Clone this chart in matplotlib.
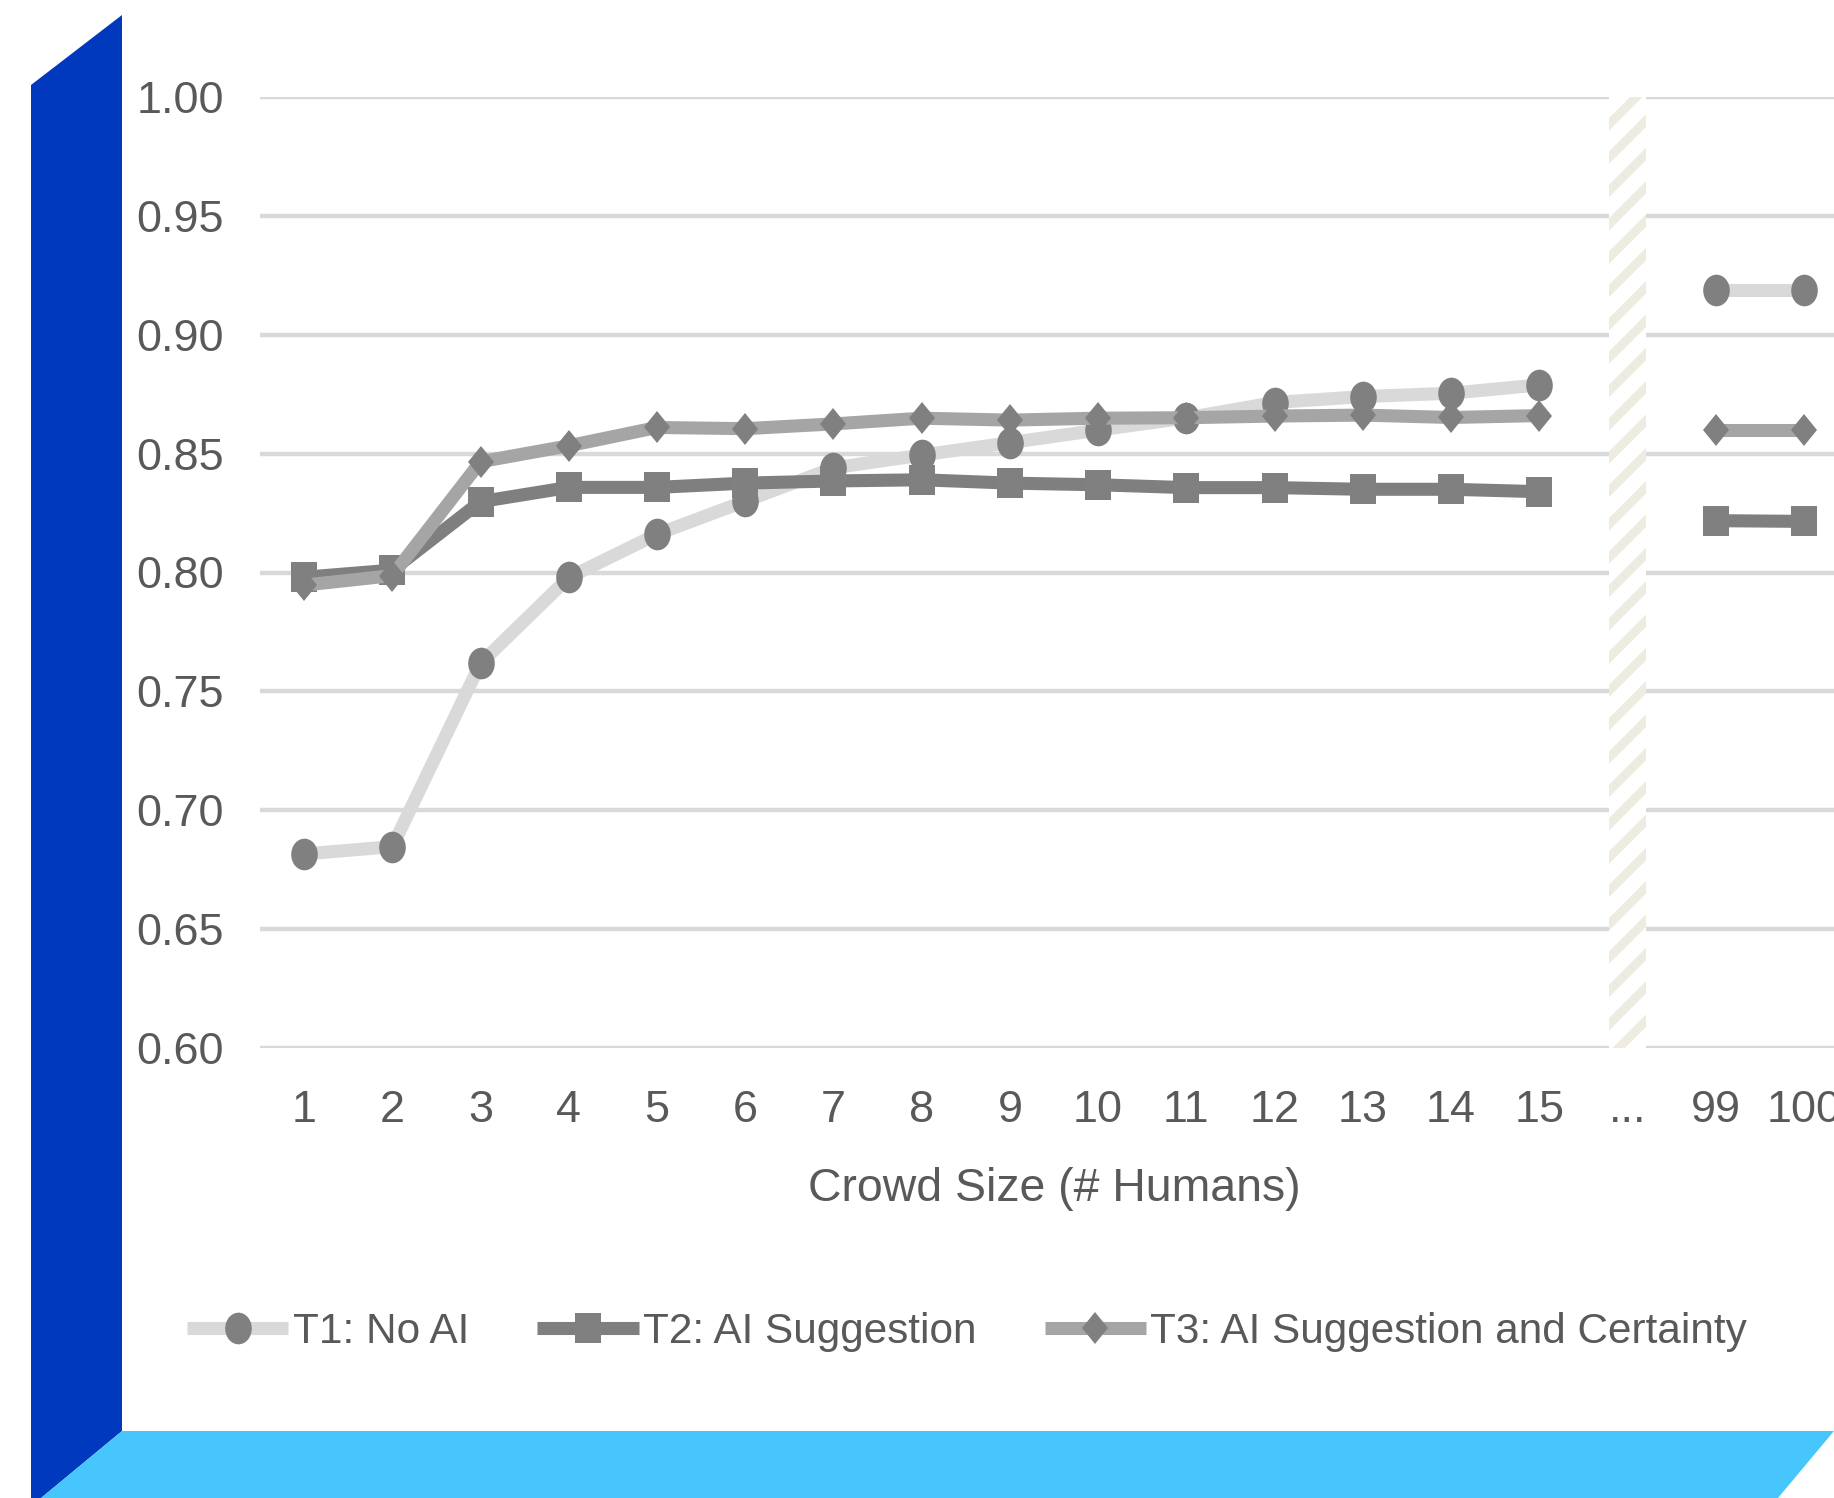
import matplotlib
matplotlib.use("Agg")
import matplotlib.pyplot as plt
from matplotlib.markers import MarkerStyle
from matplotlib.patches import Polygon, Rectangle
from matplotlib.transforms import Affine2D

plt.rcParams['font.family'] = ['Liberation Sans', 'DejaVu Sans']
plt.rcParams['hatch.linewidth'] = 3.2

# ---- data -------------------------------------------------------------
tick_labels = ["1", "2", "3", "4", "5", "6", "7", "8", "9", "10",
               "11", "12", "13", "14", "15", "...", "99", "100"]
small_crowds = list(range(15))          # positions of crowd sizes 1..15
large_crowds = [16, 17]                 # positions of crowd sizes 99, 100
gap_position = 15                       # the "..." break

t1_small = [0.6816, 0.6847, 0.7618, 0.7979, 0.8161, 0.8300, 0.8440, 0.8494,
            0.8546, 0.8599, 0.8650, 0.8715, 0.8740, 0.8754, 0.8789]
t1_large = [0.9187, 0.9187]
t2_small = [0.7980, 0.8010, 0.8298, 0.8358, 0.8358, 0.8376, 0.8385, 0.8390,
            0.8376, 0.8369, 0.8357, 0.8357, 0.8350, 0.8350, 0.8340]
t2_large = [0.8218, 0.8215]
t3_small = [0.7947, 0.7987, 0.8466, 0.8533, 0.8610, 0.8605, 0.8625, 0.8649,
            0.8641, 0.8649, 0.8651, 0.8658, 0.8662, 0.8652, 0.8660]
t3_large = [0.8598, 0.8598]

series_names = ["T1: No AI", "T2: AI Suggestion", "T3: AI Suggestion and Certainty"]
y_ticks = [0.60, 0.65, 0.70, 0.75, 0.80, 0.85, 0.90, 0.95, 1.00]

# ---- figure -----------------------------------------------------------
W, H = 1834, 1498
DPI = 200
fig = plt.figure(figsize=(W / DPI, H / DPI), dpi=DPI)
fig.patch.set_facecolor("white")

def fx(px):
    return px / W

def fy(py):
    return 1 - py / H

# decorative frame: dark blue side panel and light blue base
dark_blue = Polygon([(fx(31), fy(85)), (fx(122), fy(15)), (fx(122), fy(1431)),
                     (fx(41), fy(1498)), (fx(31), fy(1498))],
                    closed=True, transform=fig.transFigure,
                    facecolor="#0039BE", edgecolor="none", zorder=0)
light_blue = Polygon([(fx(122), fy(1431)), (fx(1834), fy(1431)),
                      (fx(1778), fy(1498)), (fx(41), fy(1498))],
                     closed=True, transform=fig.transFigure,
                     facecolor="#46C6FC", edgecolor="none", zorder=0)
fig.patches.extend([dark_blue, light_blue])

ax = fig.add_axes([fx(260), fy(1048), (1848 - 260) / W, (1048 - 97) / H])
ax.set_facecolor("none")
ax.set_xlim(-0.5, 17.5)
ax.set_ylim(0.60, 1.00)
for s in ax.spines.values():
    s.set_visible(False)

ax.set_axisbelow(True)
ax.yaxis.grid(True, color="#D9D9D9", linewidth=1.6)
ax.xaxis.grid(False)

text_color = "#595959"
ax.set_yticks(y_ticks)
ax.set_yticklabels([f"{v:.2f}" for v in y_ticks])
ax.set_xticks(range(len(tick_labels)))
ax.set_xticklabels(tick_labels)
ax.tick_params(axis="y", length=0, pad=13, labelsize=16.2, labelcolor=text_color)
ax.tick_params(axis="x", length=0, pad=15, labelsize=16.2, labelcolor=text_color)
ax.set_xlabel("Crowd Size (# Humans)", fontsize=16.7, color=text_color, labelpad=13)

# hatched break band between 15 and 99
band = Rectangle((gap_position - 0.21, 0.60), 0.42, 0.40,
                 facecolor="white", edgecolor="#EEECE1", hatch="//",
                 linewidth=0, zorder=1.5)
ax.add_patch(band)

# markers are slightly taller than wide
squeeze = Affine2D().scale(0.84, 1.0)
m_circle = MarkerStyle("o", transform=squeeze)
m_square = MarkerStyle("s", transform=Affine2D().scale(0.85, 1.0))
m_diamond = MarkerStyle("D", transform=squeeze)

marker_color = "#808080"
styles = [
    dict(color="#D9D9D9", marker=m_circle, markersize=11.4),
    dict(color="#7F7F7F", marker=m_square, markersize=11.0),
    dict(color="#A5A5A5", marker=m_diamond, markersize=8.0),
]
data = [(t1_small, t1_large), (t2_small, t2_large), (t3_small, t3_large)]

handles = []
for (small, large), st, name in zip(data, styles, series_names):
    kw = dict(linewidth=4.7, markerfacecolor=marker_color,
              markeredgecolor=marker_color, markeredgewidth=0,
              solid_capstyle="butt", solid_joinstyle="miter", zorder=3, **st)
    h, = ax.plot(small_crowds, small, label=name, **kw)
    ax.plot(large_crowds, large, **kw)
    handles.append(h)

leg = fig.legend(handles=handles, loc="center left",
                 bbox_to_anchor=(fx(187), fy(1332)), bbox_transform=fig.transFigure,
                 ncol=3, frameon=False, borderpad=0, borderaxespad=0,
                 handlelength=2.4, handletextpad=0.1, columnspacing=1.62,
                 fontsize=15.2, labelcolor=text_color)

fig.savefig("out.png", dpi=DPI, facecolor="white")
